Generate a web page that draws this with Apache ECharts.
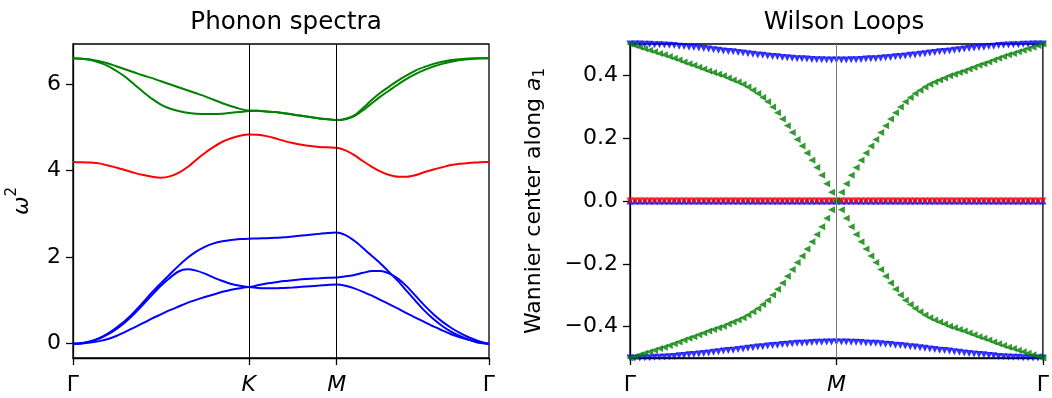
<!DOCTYPE html>
<html>
<head>
<meta charset="utf-8">
<script src="https://cdn.jsdelivr.net/npm/echarts@6/dist/echarts.min.js"></script>
<style>
  html, body { margin: 0; padding: 0; background: #fff; }
  #chart { width: 1052px; height: 398px; }
</style>
</head>
<body>
<div id="chart"></div>
<script>
// ---------- Phonon spectra: path Γ–K–M–Γ (|ΓK| = 1, |KM| = 1/2, |MΓ| = √3/2) ----------
const phononK = [
  0.00, 0.05, 0.10, 0.15, 0.20, 0.25, 0.30, 0.35, 0.40, 0.45, 0.50,
  0.55, 0.60, 0.65, 0.70, 0.75, 0.80, 0.85, 0.90, 0.95, 1.00,
  1.05, 1.10, 1.15, 1.20, 1.25, 1.30, 1.35, 1.40, 1.45, 1.50,
  1.55, 1.60, 1.65, 1.70, 1.75, 1.80, 1.85, 1.90, 1.95, 2.00,
  2.05, 2.10, 2.15, 2.20, 2.25, 2.30, 2.35, 2.366];
const phononTicks = [0, 1, 1.5, 2.366];
const phononTickLabels = ['Γ', 'K', 'M', 'Γ'];
const phononYTicks = [0, 2, 4, 6];

// acoustic bands (blue)
const acoustic1 = [
  0, 0.007, 0.027, 0.06, 0.11, 0.185, 0.28, 0.38, 0.48, 0.585, 0.68,
  0.775, 0.86, 0.945, 1.015, 1.08, 1.14, 1.20, 1.25, 1.285, 1.31,
  1.29, 1.28, 1.28, 1.29, 1.30, 1.315, 1.33, 1.345, 1.36, 1.37,
  1.34, 1.28, 1.20, 1.11, 1.01, 0.91, 0.81, 0.70, 0.60, 0.50,
  0.40, 0.31, 0.22, 0.15, 0.09, 0.04, 0.005, 0];
const acoustic2 = [
  0, 0.013, 0.055, 0.12, 0.22, 0.35, 0.51, 0.70, 0.91, 1.13, 1.34,
  1.52, 1.67, 1.72, 1.69, 1.62, 1.53, 1.45, 1.38, 1.34, 1.31,
  1.35, 1.39, 1.42, 1.45, 1.47, 1.49, 1.505, 1.515, 1.525, 1.53,
  1.56, 1.59, 1.64, 1.68, 1.68, 1.62, 1.50, 1.32, 1.10, 0.88,
  0.68, 0.51, 0.37, 0.25, 0.15, 0.07, 0.01, 0];
const acoustic3 = [
  0, 0.015, 0.06, 0.13, 0.24, 0.38, 0.54, 0.74, 0.96, 1.19, 1.40,
  1.60, 1.80, 1.98, 2.13, 2.24, 2.32, 2.37, 2.40, 2.42, 2.43,
  2.435, 2.44, 2.45, 2.46, 2.48, 2.50, 2.52, 2.54, 2.56, 2.57,
  2.51, 2.38, 2.21, 2.03, 1.85, 1.65, 1.44, 1.21, 0.98, 0.76,
  0.57, 0.41, 0.28, 0.18, 0.095, 0.03, 0.002, 0];
// isolated optical band (red)
const optical1 = [
  4.20, 4.197, 4.19, 4.17, 4.12, 4.07, 4.01, 3.95, 3.90, 3.86, 3.84,
  3.87, 3.95, 4.08, 4.25, 4.41, 4.55, 4.67, 4.75, 4.81, 4.84,
  4.83, 4.80, 4.75, 4.69, 4.64, 4.60, 4.57, 4.55, 4.54, 4.53,
  4.47, 4.36, 4.22, 4.09, 3.98, 3.90, 3.86, 3.86, 3.90, 3.97,
  4.03, 4.08, 4.13, 4.16, 4.18, 4.19, 4.20, 4.20];
// upper optical pair (green)
const optical2 = [
  6.60, 6.59, 6.56, 6.50, 6.42, 6.30, 6.16, 5.99, 5.82, 5.66, 5.53,
  5.44, 5.38, 5.34, 5.32, 5.31, 5.31, 5.32, 5.34, 5.36, 5.38,
  5.385, 5.37, 5.355, 5.33, 5.30, 5.27, 5.24, 5.21, 5.19, 5.17,
  5.19, 5.26, 5.40, 5.56, 5.72, 5.86, 6.00, 6.13, 6.24, 6.33,
  6.41, 6.47, 6.52, 6.56, 6.58, 6.595, 6.60, 6.60];
const optical3 = [
  6.60, 6.59, 6.57, 6.53, 6.48, 6.41, 6.34, 6.27, 6.20, 6.14, 6.07,
  6.00, 5.93, 5.86, 5.79, 5.72, 5.64, 5.56, 5.49, 5.43, 5.39,
  5.385, 5.37, 5.355, 5.33, 5.30, 5.27, 5.24, 5.21, 5.19, 5.17,
  5.20, 5.28, 5.45, 5.64, 5.81, 5.95, 6.09, 6.21, 6.32, 6.40,
  6.47, 6.52, 6.56, 6.58, 6.595, 6.60, 6.60, 6.60];

// ---------- Wilson loops: Γ–M–Γ, 42 k-steps per half ----------
const wilsonStepsPerHalf = 42;
const wilsonTicks = [0, 1, 2];
const wilsonTickLabels = ['Γ', 'M', 'Γ'];
const wilsonYTicks = [-0.4, -0.2, 0, 0.2, 0.4];

const wilsonBlueTop = [
  0.500,0.500,0.500,0.499,0.499,0.498,0.498,0.497,0.496,0.495,0.493,0.492,0.490,0.489,0.487,
  0.486,0.484,0.482,0.480,0.478,0.476,0.475,0.473,0.471,0.469,0.467,0.465,0.464,0.462,0.460,
  0.459,0.457,0.456,0.455,0.453,0.453,0.452,0.451,0.450,0.450,0.449,0.449,0.449,
  0.449,0.449,0.450,0.450,0.451,0.452,0.453,0.453,0.455,0.456,0.457,0.459,0.460,0.462,0.464,
  0.465,0.467,0.469,0.471,0.473,0.475,0.476,0.478,0.480,0.482,0.484,0.486,0.487,0.489,0.490,
  0.492,0.493,0.495,0.496,0.497,0.498,0.498,0.499,0.499,0.500,0.500,0.500];
const wilsonBlueBottom = [
  -0.500,-0.500,-0.500,-0.499,-0.499,-0.498,-0.498,-0.497,-0.496,-0.495,-0.493,-0.492,-0.490,-0.489,-0.487,
  -0.486,-0.484,-0.482,-0.480,-0.478,-0.476,-0.475,-0.473,-0.471,-0.469,-0.467,-0.465,-0.464,-0.462,-0.460,
  -0.459,-0.457,-0.456,-0.455,-0.453,-0.453,-0.452,-0.451,-0.450,-0.450,-0.449,-0.449,-0.449,
  -0.449,-0.449,-0.450,-0.450,-0.451,-0.452,-0.453,-0.453,-0.455,-0.456,-0.457,-0.459,-0.460,-0.462,-0.464,
  -0.465,-0.467,-0.469,-0.471,-0.473,-0.475,-0.476,-0.478,-0.480,-0.482,-0.484,-0.486,-0.487,-0.489,-0.490,
  -0.492,-0.493,-0.495,-0.496,-0.497,-0.498,-0.498,-0.499,-0.499,-0.500,-0.500,-0.500];
const wilsonBlueZero = [
  0,0,0,0,0,0,0,0,0,0,0,0,0,0,0,0,0,0,0,0,0,0,0,0,0,0,0,0,0,0,0,0,0,0,0,0,0,0,0,0,0,0,0,
  0,0,0,0,0,0,0,0,0,0,0,0,0,0,0,0,0,0,0,0,0,0,0,0,0,0,0,0,0,0,0,0,0,0,0,0,0,0,0,0,0,0];
const wilsonRedZero = [
  0,0,0,0,0,0,0,0,0,0,0,0,0,0,0,0,0,0,0,0,0,0,0,0,0,0,0,0,0,0,0,0,0,0,0,0,0,0,0,0,0,0,0,
  0,0,0,0,0,0,0,0,0,0,0,0,0,0,0,0,0,0,0,0,0,0,0,0,0,0,0,0,0,0,0,0,0,0,0,0,0,0,0,0,0,0];
const wilsonGreenDown = [
  0.500,0.495,0.490,0.485,0.480,0.475,0.470,0.466,0.460,0.455,0.449,0.443,0.437,0.432,0.426,
  0.420,0.414,0.409,0.404,0.399,0.392,0.385,0.379,0.372,0.363,0.353,0.342,0.330,0.316,0.299,
  0.281,0.261,0.240,0.218,0.196,0.175,0.153,0.130,0.107,0.082,0.055,0.028,0.000,
  -0.028,-0.055,-0.082,-0.107,-0.130,-0.153,-0.175,-0.196,-0.218,-0.240,-0.261,-0.281,-0.299,-0.316,-0.330,
  -0.342,-0.353,-0.363,-0.372,-0.379,-0.385,-0.392,-0.399,-0.404,-0.409,-0.414,-0.420,-0.426,-0.432,-0.437,
  -0.443,-0.449,-0.455,-0.460,-0.466,-0.470,-0.475,-0.480,-0.485,-0.490,-0.495,-0.500];
const wilsonGreenUp = [
  -0.500,-0.495,-0.490,-0.485,-0.480,-0.475,-0.470,-0.466,-0.460,-0.455,-0.449,-0.443,-0.437,-0.432,-0.426,
  -0.420,-0.414,-0.409,-0.404,-0.399,-0.392,-0.385,-0.379,-0.372,-0.363,-0.353,-0.342,-0.330,-0.316,-0.299,
  -0.281,-0.261,-0.240,-0.218,-0.196,-0.175,-0.153,-0.130,-0.107,-0.082,-0.055,-0.028,0.000,
  0.028,0.055,0.082,0.107,0.130,0.153,0.175,0.196,0.218,0.240,0.261,0.281,0.299,0.316,0.330,
  0.342,0.353,0.363,0.372,0.379,0.385,0.392,0.399,0.404,0.409,0.414,0.420,0.426,0.432,0.437,
  0.443,0.449,0.455,0.460,0.466,0.470,0.475,0.480,0.485,0.490,0.495,0.500];

// ---------- styling ----------
const FONT = 'DejaVu Sans';
const TICK_FS = 22;
const TITLE_FS = 24.6;
const BLUE = '#0000ff', RED = '#ff0000', GREEN = '#008000';

const spine = { show: true, onZero: false, lineStyle: { color: '#000', width: 1.3 } };
const tickStyle = { color: '#000', width: 1.3 };

function labelAt(ticks, names) {
  return function (v) {
    for (let i = 0; i < ticks.length; i++) {
      if (Math.abs(ticks[i] - v) < 1e-6) {
        return names[i] === 'Γ' ? names[i] : '{it|' + names[i] + '}';
      }
    }
    return '';
  };
}
const kLabelStyle = {
  fontFamily: FONT, fontSize: TICK_FS, color: '#000', margin: 16,
  rich: { it: { fontFamily: FONT, fontSize: TICK_FS, fontStyle: 'italic', color: '#000' } }
};

function bandSeries(values, color) {
  return {
    type: 'line', xAxisIndex: 0, yAxisIndex: 0,
    data: phononK.map((k, i) => [k, values[i]]),
    showSymbol: false, smooth: 0.25, silent: true,
    lineStyle: { color: color, width: 2 }
  };
}
// triangle markers: rotate 0 = up, 180 = down, 90 = left
function wilsonSeries(values, color, rotate, size, z) {
  return {
    type: 'scatter', xAxisIndex: 1, yAxisIndex: 1,
    data: values.map((v, i) => [i / wilsonStepsPerHalf, v]),
    symbol: 'triangle', symbolSize: size, symbolRotate: rotate,
    itemStyle: { color: color }, silent: true, clip: true, z: z
  };
}

const option = {
  animation: false,
  backgroundColor: '#fff',
  title: [
    { text: 'Phonon spectra', left: 281, top: 5, textAlign: 'center',
      textStyle: { fontFamily: FONT, fontSize: TITLE_FS, fontWeight: 'normal', color: '#000' } },
    { text: 'Wilson Loops', left: 839, top: 5, textAlign: 'center',
      textStyle: { fontFamily: FONT, fontSize: TITLE_FS, fontWeight: 'normal', color: '#000' } }
  ],
  grid: [
    { left: 73, top: 44, width: 416, height: 314, show: true, borderColor: '#000', borderWidth: 1.3, backgroundColor: 'transparent' },
    { left: 630, top: 44, width: 418, height: 314, show: true, borderColor: '#000', borderWidth: 1.3, backgroundColor: 'transparent' }
  ],
  xAxis: [
    { gridIndex: 0, type: 'value', min: 0, max: phononTicks[phononTicks.length - 1],
      axisLine: spine,
      axisTick: { show: true, length: 7, lineStyle: tickStyle, customValues: phononTicks },
      axisLabel: Object.assign({ customValues: phononTicks, formatter: labelAt(phononTicks, phononTickLabels) }, kLabelStyle),
      splitLine: { show: false } },
    { gridIndex: 1, type: 'value', min: 0, max: 2,
      axisLine: spine,
      axisTick: { show: true, length: 7, lineStyle: tickStyle, customValues: wilsonTicks },
      axisLabel: Object.assign({ customValues: wilsonTicks, formatter: labelAt(wilsonTicks, wilsonTickLabels) }, kLabelStyle),
      splitLine: { show: false } }
  ],
  yAxis: [
    { gridIndex: 0, type: 'value', min: -0.33, max: 6.93,
      axisLine: spine,
      axisTick: { show: true, length: 7, lineStyle: tickStyle, customValues: phononYTicks },
      axisLabel: { customValues: phononYTicks, fontFamily: FONT, fontSize: TICK_FS, color: '#000', margin: 12,
                   formatter: v => String(v) },
      splitLine: { show: false },
      name: '{w|ω}{s|2}', nameLocation: 'middle', nameRotate: 90, nameGap: 40,
      nameTextStyle: { fontFamily: FONT, color: '#000',
        rich: { w: { fontFamily: FONT, fontSize: TICK_FS, fontStyle: 'italic', color: '#000', lineHeight: 28, verticalAlign: 'bottom' },
                s: { fontFamily: FONT, fontSize: 15, color: '#000', lineHeight: 28, verticalAlign: 'top' } } } },
    { gridIndex: 1, type: 'value', min: -0.5, max: 0.5,
      axisLine: spine,
      axisTick: { show: true, length: 7, lineStyle: tickStyle, customValues: wilsonYTicks },
      axisLabel: { customValues: wilsonYTicks, fontFamily: FONT, fontSize: TICK_FS, color: '#000', margin: 12,
                   formatter: v => (Math.abs(v) < 1e-9 ? 0 : v).toFixed(1).replace('-', '\u2212') },
      splitLine: { show: false },
      name: 'Wannier center along {a|a}{s|1}', nameLocation: 'middle', nameRotate: 90, nameGap: 82,
      nameTextStyle: { fontFamily: FONT, fontSize: TICK_FS, color: '#000', lineHeight: 28,
        rich: { a: { fontFamily: FONT, fontSize: TICK_FS, fontStyle: 'italic', color: '#000', lineHeight: 28 },
                s: { fontFamily: FONT, fontSize: 15, color: '#000', lineHeight: 28, verticalAlign: 'bottom' } } } }
  ],
  series: [
    // high-symmetry markers K and M
    { type: 'line', xAxisIndex: 0, yAxisIndex: 0, data: [], silent: true,
      markLine: { silent: true, symbol: 'none', label: { show: false },
        lineStyle: { color: '#000', width: 1, type: 'solid' },
        data: [{ xAxis: phononTicks[1] }, { xAxis: phononTicks[2] }] } },
    bandSeries(acoustic1, BLUE),
    bandSeries(acoustic2, BLUE),
    bandSeries(acoustic3, BLUE),
    bandSeries(optical1, RED),
    bandSeries(optical2, GREEN),
    bandSeries(optical3, GREEN),
    // M marker on the Wilson-loop panel
    { type: 'line', xAxisIndex: 1, yAxisIndex: 1, data: [], silent: true,
      markLine: { silent: true, symbol: 'none', label: { show: false },
        lineStyle: { color: '#777', width: 1, type: 'solid' },
        data: [{ xAxis: wilsonTicks[1] }] } },
    wilsonSeries(wilsonBlueTop, BLUE, 180, 7, 2),
    wilsonSeries(wilsonBlueBottom, BLUE, 180, 7, 2),
    wilsonSeries(wilsonBlueZero, BLUE, 0, 7, 2),
    wilsonSeries(wilsonRedZero, RED, 180, 7, 3),
    wilsonSeries(wilsonGreenDown, GREEN, 90, 7, 4),
    wilsonSeries(wilsonGreenUp, GREEN, 90, 7, 4)
  ]
};

const chart = echarts.init(document.getElementById('chart'), null, { renderer: 'canvas' });
chart.setOption(option);
</script>
</body>
</html>
